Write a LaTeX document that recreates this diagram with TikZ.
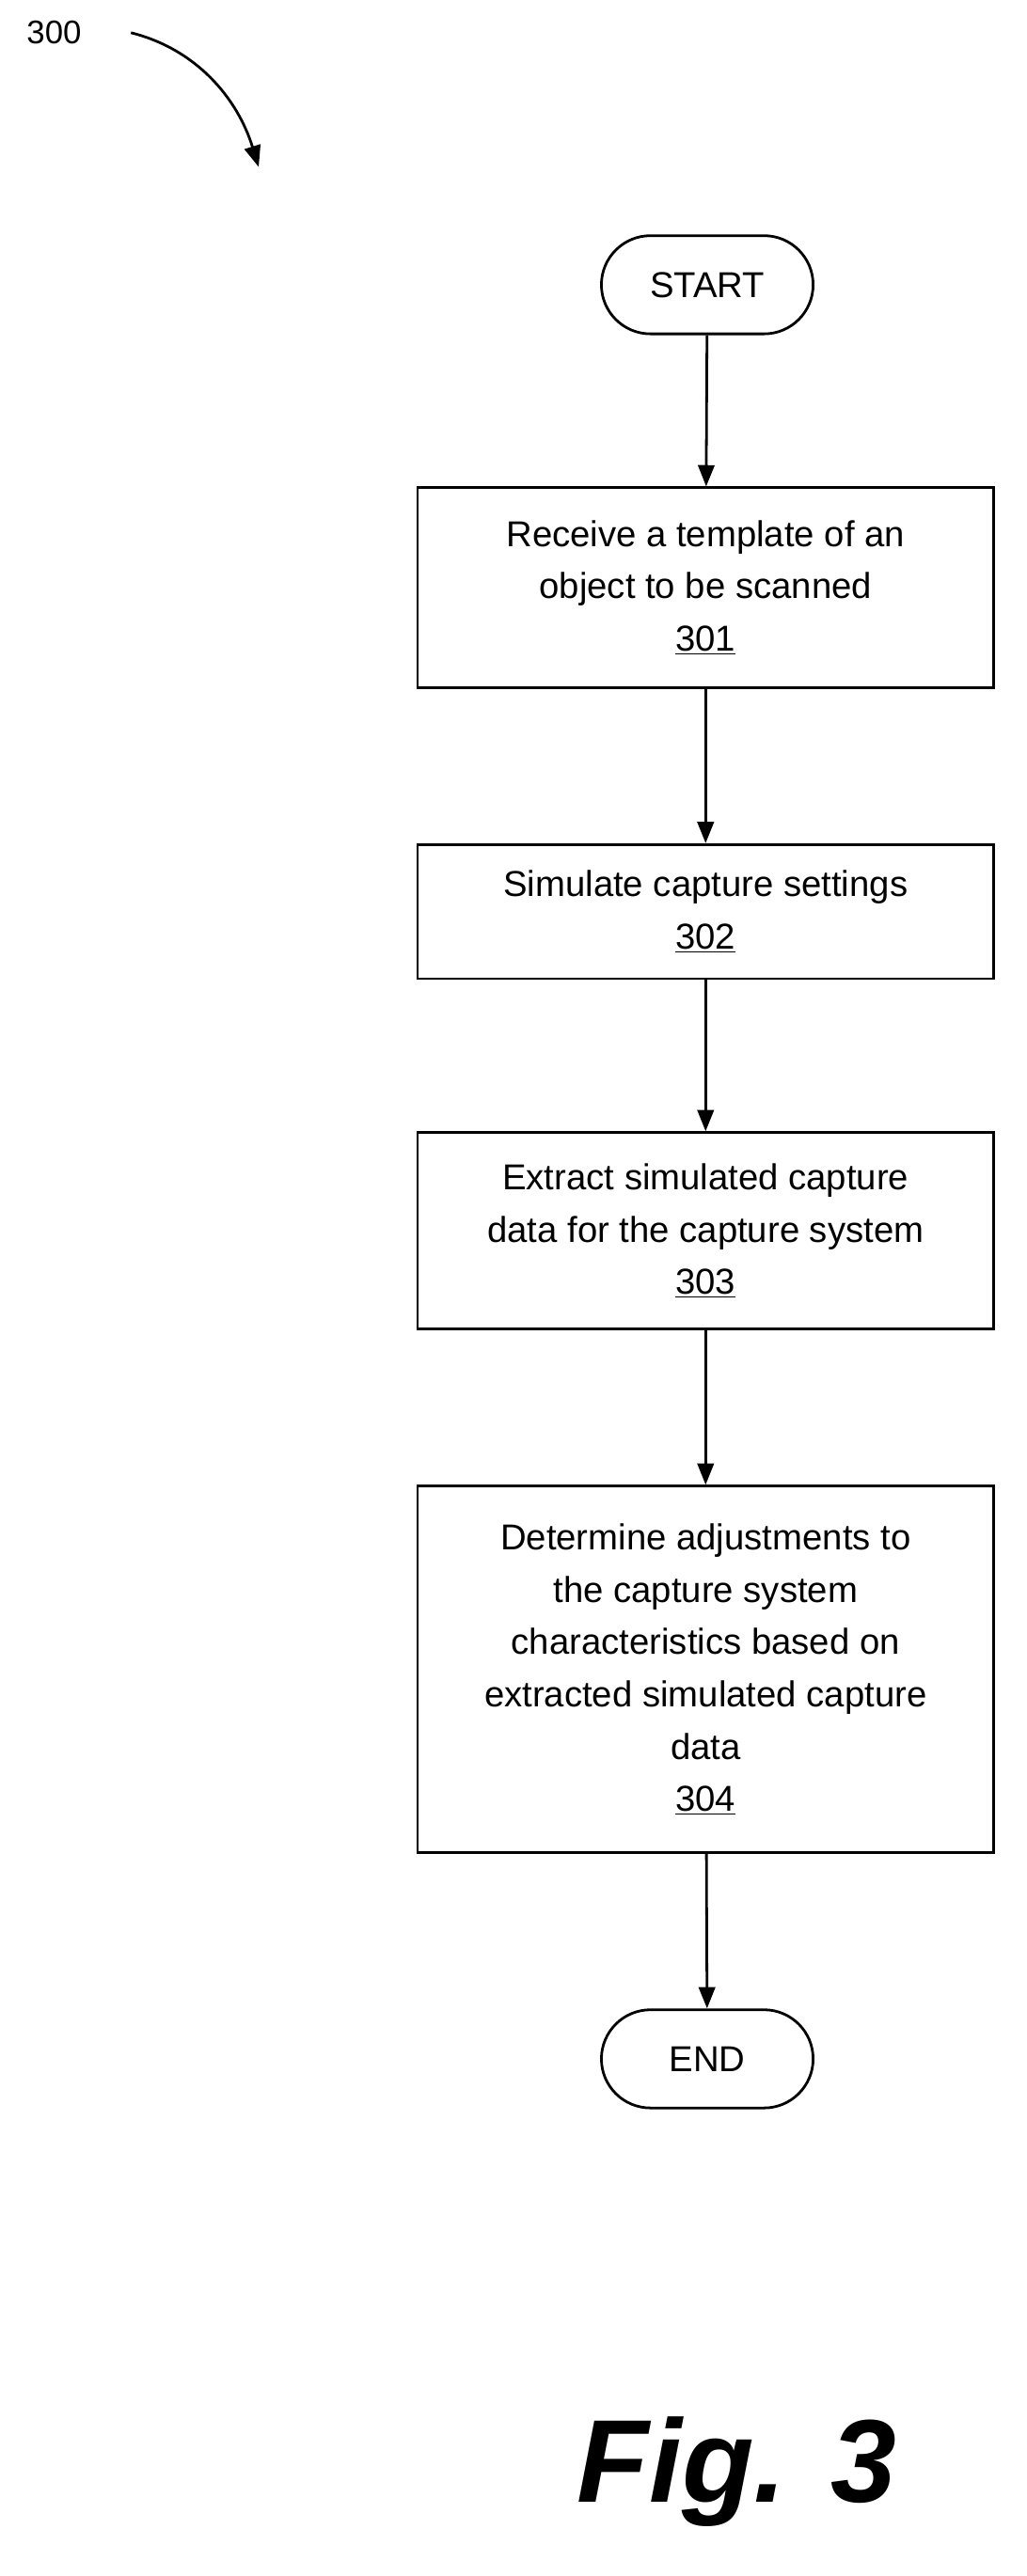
\documentclass[tikz,border=0pt]{standalone}
\usepackage{fontspec}
\setmainfont{Liberation Sans}
\usetikzlibrary{arrows.meta,positioning,shapes.misc}

\begin{document}
\begin{tikzpicture}[x=1pt,y=-1pt,
  stepbox/.style={draw, line width=1.6pt, rectangle, minimum width=352pt, align=center,
    font=\fontsize{22}{32}\selectfont, inner sep=4pt},
  term/.style={draw, line width=1.6pt, rounded rectangle, minimum width=136pt, minimum height=60pt,
    font=\fontsize{22}{32}\selectfont},
  arr/.style={line width=1.6pt, -{Triangle[length=13pt,width=10pt]}},
  ]
  \useasboundingbox (0,0) rectangle (627,1574);

  \node[font=\fontsize{20}{24}\selectfont] (lbl) at (33,20) {300};
  \coordinate (tip) at (158,102);
  \draw[arr] (80,20) .. controls (120,30) and (145,60) .. (tip);

  % flow
  \node[term] (start) at (432,174) {START};
  \node[stepbox, minimum height=122pt] (s301) at (431,359)
    {Receive a template of an\\object to be scanned\\\underline{301}};
  \node[stepbox, minimum height=82pt] (s302) at (431,557)
    {Simulate capture settings\\\underline{302}};
  \node[stepbox, minimum height=120pt] (s303) at (431,752)
    {Extract simulated capture\\data for the capture system\\\underline{303}};
  \node[stepbox, minimum height=224pt] (s304) at (431,1020)
    {Determine adjustments to\\the capture system\\characteristics based on\\extracted simulated capture\\data\\\underline{304}};
  \node[term] (end) at (432,1258) {END};

  \draw[arr] (start) -- (s301);
  \draw[arr] (s301) -- (s302);
  \draw[arr] (s302) -- (s303);
  \draw[arr] (s303) -- (s304);
  \draw[arr] (s304) -- (end);

  \node[font=\fontsize{72}{80}\selectfont\bfseries\itshape] (fig) at (450,1510) {Fig. 3};
\end{tikzpicture}
\end{document}
